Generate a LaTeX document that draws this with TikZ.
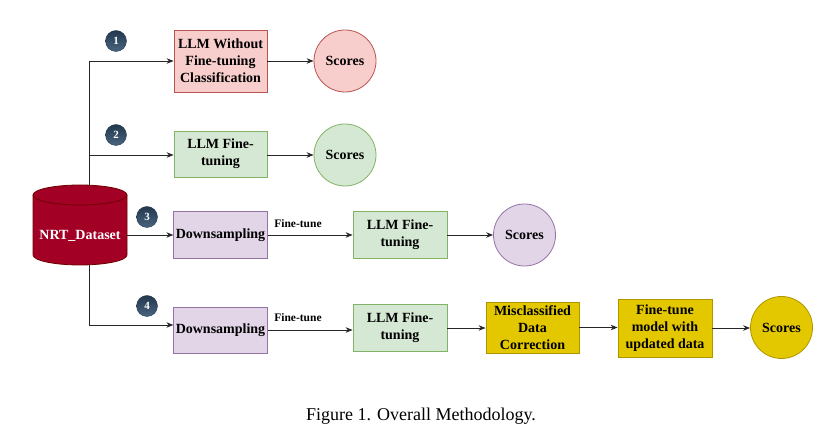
\documentclass[tikz,border=0pt]{standalone}
\usepackage{fontspec}
\setmainfont{Liberation Serif}
\usetikzlibrary{arrows.meta}
\definecolor{pinkF}{HTML}{F8CECC}\definecolor{pinkD}{HTML}{B85450}
\definecolor{greenF}{HTML}{D5E8D4}\definecolor{greenD}{HTML}{82B366}
\definecolor{purpF}{HTML}{E1D5E7}\definecolor{purpD}{HTML}{9673A6}
\definecolor{yelF}{HTML}{E3C800}\definecolor{yelD}{HTML}{B09500}
\definecolor{cylF}{HTML}{A20025}\definecolor{cylD}{HTML}{6F0000}
\definecolor{badgeT}{HTML}{22384D}\definecolor{badgeB}{HTML}{4A6580}
\begin{document}
\begin{tikzpicture}[x=1pt,y=1pt,
  txt/.style={font=\fontsize{14}{16.8}\selectfont\bfseries, align=center, text=black},
  boxbase/.style={txt, rectangle, draw, line width=0.8pt, inner sep=2pt},
  pinkbox/.style={boxbase, fill=pinkF, draw=pinkD},
  greenbox/.style={boxbase, fill=greenF, draw=greenD},
  purpbox/.style={boxbase, fill=purpF, draw=purpD},
  yelbox/.style={boxbase, fill=yelF, draw=yelD},
  score/.style={txt, circle, draw, line width=0.8pt, minimum size=62pt, inner sep=0pt},
  badge/.style={circle, minimum size=21pt, inner sep=0pt, top color=badgeT, bottom color=badgeB, draw=badgeT, line width=0.4pt, text=white, font=\fontsize{11}{11}\selectfont\bfseries},
  conn/.style={line width=0.8pt, draw=black!85, -{Stealth[length=7pt,width=5.5pt]}},
  plain/.style={line width=0.8pt, draw=black!85},
  lbl/.style={font=\fontsize{11.5}{11.5}\selectfont\bfseries, text=black}]
\useasboundingbox (0,0) rectangle (839,441);
% cylinder
\fill[cylF] (33,246) -- (33,186) arc[start angle=180,end angle=360,x radius=47,y radius=10] -- (127,246) arc[start angle=0,end angle=180,x radius=47,y radius=10] -- cycle;
\draw[cylD, line width=0.8pt] (33,246) -- (33,186) arc[start angle=180,end angle=360,x radius=47,y radius=10] -- (127,246);
\draw[cylD, line width=0.8pt] (80,246) ellipse[x radius=47,y radius=10];
\node[minimum width=94pt, minimum height=80pt, inner sep=0pt] (ds) at (80,216) {};
\node[txt, text=white] (dslabel) at (80,205) {NRT\_Dataset};
\coordinate (ttop) at (89,255.8);
\coordinate (tbot) at (89,176.3);
\coordinate (r1) at (89,380);
\coordinate (r2) at (89,286);
\coordinate (r4) at (89,116);
% row 1
\node[pinkbox, minimum width=93pt, minimum height=62pt] (b1) at (220.5,380) {LLM Without\\Fine-tuning\\Classification};
\node[score, fill=pinkF, draw=pinkD] (s1) at (345,380) {Scores};
\node[badge] (n1) at (116,400) {1};
% row 2
\node[greenbox, minimum width=93pt, minimum height=46pt] (b2) at (220.5,287) {LLM Fine-\\tuning};
\node[score, fill=greenF, draw=greenD] (s2) at (345,286) {Scores};
\node[badge] (n2) at (116,306) {2};
% row 3
\node[purpbox, minimum width=93pt, minimum height=47pt] (d3) at (220.5,206) {Downsampling};
\node[greenbox, minimum width=94pt, minimum height=47pt] (l3) at (400,206) {LLM Fine-\\tuning};
\node[score, fill=purpF, draw=purpD] (s3) at (524.5,206) {Scores};
\node[badge] (n3) at (147,224) {3};
\node[lbl] (f3) at (298,217) {Fine-tune};
% row 4
\node[purpbox, minimum width=93pt, minimum height=46pt] (d4) at (220.5,111) {Downsampling};
\node[greenbox, minimum width=94pt, minimum height=47pt] (l4) at (400,113) {LLM Fine-\\tuning};
\node[yelbox, minimum width=93pt, minimum height=51pt] (m4) at (532.5,113.5) {Misclassified\\Data\\Correction};
\node[yelbox, minimum width=94pt, minimum height=58pt] (u4) at (665,113) {Fine-tune\\model with\\updated data};
\node[score, fill=yelF, draw=yelD] (s4) at (781.5,113.5) {Scores};
\node[badge] (n4) at (147,135) {4};
\node[lbl] (f4) at (298,123) {Fine-tune};
% connectors
\draw[plain] (ttop) -- (r1);
\draw[conn] (r1) -- (b1.west |- r1);
\draw[conn] (r2) -- (b2.west |- r2);
\draw[plain] (tbot) -- (r4);
\draw[conn] (r4) -- (d4.west |- r4);
\draw[conn] (ds.east |- d3) -- (d3.west);
\draw[conn] (b1.east |- s1) -- (s1.west);
\draw[conn] (b2.east |- s2) -- (s2.west);
\draw[conn] (d3.east) -- (l3.west);
\draw[conn] (l3.east) -- (s3.west);
\draw[conn] (d4.east) -- (l4.west |- d4.east);
\draw[conn] (l4.east) -- (m4.west |- l4.east);
\draw[conn] (m4.east) -- (u4.west |- m4.east);
\draw[conn] (u4.east) -- (s4.west |- u4.east);
% caption
\node[font=\fontsize{18}{18}\selectfont] (cap) at (421,25) {Figure 1. Overall Methodology.};
\end{tikzpicture}
\end{document}
